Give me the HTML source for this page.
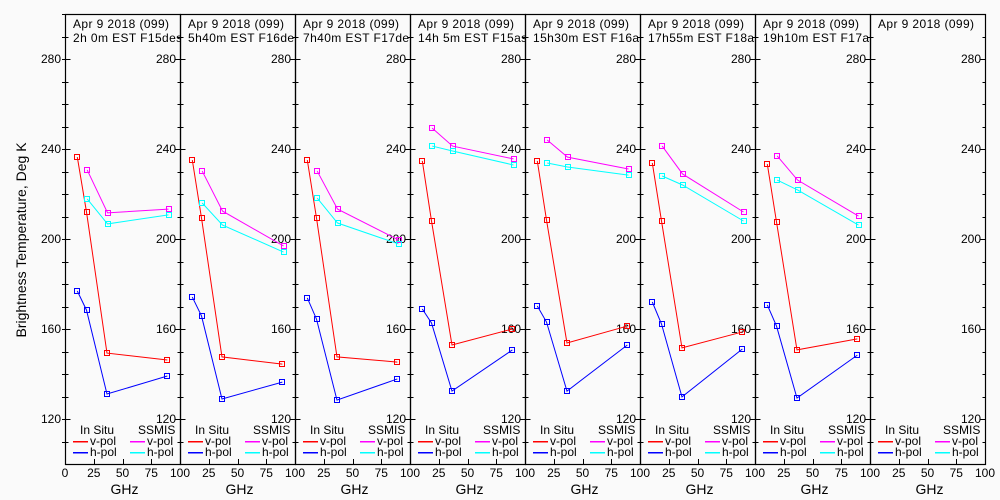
<!DOCTYPE html>
<html><head><meta charset="utf-8"><style>
html,body{margin:0;padding:0;background:#fafafa;}
svg{display:block;font-family:"Liberation Sans",sans-serif;}
</style></head><body>
<svg id="c" width="1000" height="500"></svg>
<script>
const titles1 = ["Apr 9 2018 (099)","Apr 9 2018 (099)","Apr 9 2018 (099)","Apr 9 2018 (099)","Apr 9 2018 (099)","Apr 9 2018 (099)","Apr 9 2018 (099)","Apr 9 2018 (099)"];
const titles2 = ["2h 0m EST F15des","5h40m EST F16des","7h40m EST F17des","14h 5m EST F15asc","15h30m EST F16asc","17h55m EST F18asc","19h10m EST F17asc",""];
const inSituFreq = [10.7, 18.7, 36.5, 89];
const ssmisFreq = [19.3, 37, 90];
const inSituV = [[236.4,212,149.3,146.2],[235.1,209.3,147.6,144.4],[235.1,209.3,147.6,145.3],[234.7,208,152.9,160],[234.7,208.4,153.8,161.3],[233.8,208,151.6,158.7],[233.3,207.6,150.7,155.6],[]];
const inSituH = [[176.9,168.4,131.1,139.1],[174.2,165.8,128.9,136.4],[173.8,164.4,128.4,137.8],[168.9,162.7,132.4,150.7],[170.2,163.1,132.4,152.9],[172,162.2,129.8,151.1],[170.7,161.3,129.3,148.4],[]];
const ssmisV = [[230.7,211.6,213.3],[230.2,212.4,196.9],[230.2,213.3,199.6],[249.3,241.3,235.6],[244,236.4,231.1],[241.3,228.9,212],[236.9,226.2,210.2],[]];
const ssmisH = [[217.8,206.7,210.7],[216,206.2,194.2],[218.2,207.1,197.8],[241.3,239.1,232.9],[233.8,232,228.4],[228,224,208],[226.2,221.8,206.2],[]];
const yTicks = [120,160,200,240,280];
const xTicks = [0,25,50,75,100];

const NS="http://www.w3.org/2000/svg";
const svg=document.getElementById('c');
function mk(t,a,p){const e=document.createElementNS(NS,t);for(const k in a)e.setAttribute(k,a[k]);(p||svg).appendChild(e);return e;}
const yTop=14,bot=464,pw=115,x00=65;
function yS(v){return bot-(v-100)*(bot-yTop)/200;}
function xS(i,f){return x00+i*pw+f*pw/100;}

const defs=mk('defs',{});
const yt=mk('text',{x:26,y:240,'font-size':14,'text-anchor':'middle',transform:'rotate(-90 26 240)',fill:'#000'});


yt.textContent='Brightness Temperature, Deg K';

for(let i=0;i<8;i++){
  const g=mk('g',{});
  
  
  const L=x00+i*pw,R=L+pw;
  const cp=mk('clipPath',{id:'cp'+i},defs);
  mk('rect',{x:L+1,y:yTop,width:pw-1,height:40},cp);
  mk('rect',{x:L+0.5,y:yTop+0.5,width:pw,height:bot-yTop,fill:'none',stroke:'#000','stroke-width':1.2},g);
  for(let v=110;v<=300;v+=10){
    const y=Math.round(yS(v))+0.5;const major=(v%40==0);
    mk('line',{x1:R+0.5,x2:R+0.5-(major?5:3),y1:y,y2:y,stroke:'#000'},g);
    mk('line',{x1:L+0.5,x2:L+0.5+(major?5:3),y1:y,y2:y,stroke:'#000'},g);
    if(i==0) mk('line',{x1:L+0.5,x2:L-3,y1:y,y2:y,stroke:'#000'},g);
  }
  yTicks.forEach(v=>{
    const t=mk('text',{x:R-4,y:yS(v)+4,'font-size':12,'text-anchor':'end',fill:'#000'},g);
    
    
    t.textContent=v;
    if(i==0){const t2=mk('text',{x:L-4,y:yS(v)+4,'font-size':12,'text-anchor':'end',fill:'#000'},g);
      
      
      t2.textContent=v;}
  });
  xTicks.forEach(f=>{
    const x=Math.round(xS(i,f))+0.5;
    mk('line',{x1:x,x2:x,y1:bot,y2:bot-5,stroke:'#000'},g);
    if(f==0&&i>0)return;
    const t=mk('text',{x:xS(i,f),y:bot+13,'font-size':12,'text-anchor':'middle',fill:'#000'},g);
    
    
    t.textContent=f;
  });
  const xl=mk('text',{x:L+pw/2+2,y:bot+30,'font-size':14,'text-anchor':'middle',fill:'#000'},g);
  
  
  xl.textContent='GHz';
  const tg=mk('g',{'clip-path':'url(#cp'+i+')'},g);
  const t1=mk('text',{x:L+8,y:28,'font-size':12,'letter-spacing':0.4,fill:'#000'},tg);
  
  
  t1.textContent=titles1[i];
  const t2=mk('text',{x:L+8,y:42,'font-size':12,'letter-spacing':0.4,fill:'#000'},tg);
  
  
  t2.textContent=titles2[i];
  const lg=mk('g',{},g);
  
  
  [['In Situ',L+15,430],['SSMIS',L+73,430]].forEach(a=>{const t=mk('text',{x:a[1],y:a[2]+4,'font-size':12,fill:'#000'},lg);t.textContent=a[0];});
  [['#f00','v-pol',L+8,441],['#00f','h-pol',L+8,452],['#f0f','v-pol',L+65,441],['#0ff','h-pol',L+65,452]].forEach(a=>{
    const e=mk('g',{},lg);
    
    
    mk('line',{x1:a[2],x2:a[2]+15,y1:a[3]+0.5,y2:a[3]+0.5,stroke:a[0],'stroke-width':1.5,'shape-rendering':'crispEdges'},e);
    const t=mk('text',{x:a[2]+17,y:a[3]+4,'font-size':12,fill:'#000'},e);t.textContent=a[1];
  });
  [[inSituV[i],inSituFreq,'#f00','in-situ-v-pol'],[inSituH[i],inSituFreq,'#00f','in-situ-h-pol'],[ssmisV[i],ssmisFreq,'#f0f','ssmis-v-pol'],[ssmisH[i],ssmisFreq,'#0ff','ssmis-h-pol']].forEach(s=>{
    if(!s[0].length)return;
    const pts=s[0].map((v,k)=>[xS(i,s[1][k]),yS(v)]);
    const pl=mk('polyline',{points:pts.map(p=>p.join(',')).join(' '),fill:'none',stroke:s[2],'stroke-width':1},g);
    
    
    pts.forEach(p=>{const r=mk('rect',{x:Math.round(p[0])-2.5,y:Math.round(p[1])-2.5,width:5,height:5,fill:'none',stroke:s[2],'shape-rendering':'crispEdges'},g);
      
      });
  });
}
</script>
</body></html>
